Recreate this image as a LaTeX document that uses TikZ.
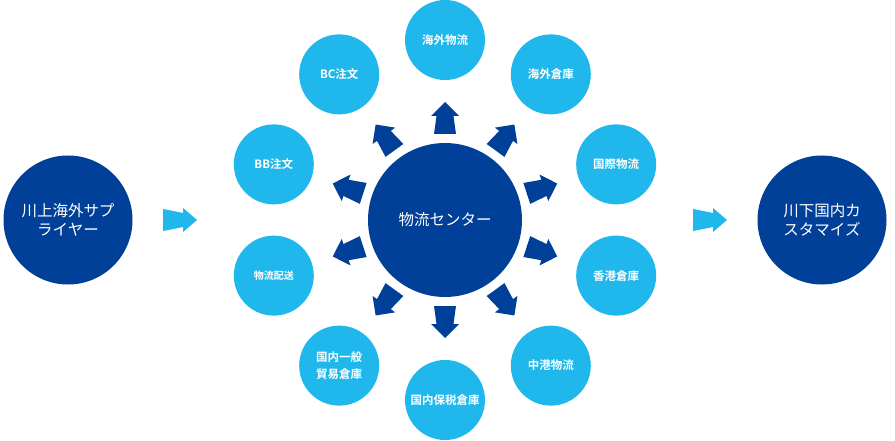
\documentclass[tikz,border=0pt]{standalone}
\usepackage{fontspec}
\newfontfamily\cjk{Noto Sans CJK JP}[BoldFont={Noto Sans CJK JP Bold}]
\definecolor{darkblue}{RGB}{0,64,152}
\definecolor{lightblue}{RGB}{32,184,236}
\tikzset{
  bigcirc/.style={circle, fill=darkblue, text=white, inner sep=0pt, minimum size=129pt,
    align=center, font=\cjk\fontsize{15.5}{19.5}\selectfont},
  hubcirc/.style={circle, fill=darkblue, text=white, inner sep=0pt, minimum size=154pt,
    font=\cjk\fontsize{15.5}{19.5}\selectfont},
  sat/.style={circle, fill=lightblue, text=white, inner sep=0pt, minimum size=80pt,
    align=center, font=\cjk\bfseries\fontsize{11.5}{17}\selectfont},
  radarrow/.style={fill=darkblue},
  flowarrow/.style={fill=lightblue},
}
\begin{document}
\begin{tikzpicture}[x=1pt,y=1pt]
\useasboundingbox (0,0) rectangle (895,440);
% main circles
\node[bigcirc] (up) at (68,220) {川上海外サプ\\ライヤー};
\node[hubcirc] (c) at (445,220) {物流センター};
\node[bigcirc] (down) at (822,220) {川下国内カ\\スタマイズ};
% satellites
\begin{scope}[shift={(445,220)}]
\node[sat] (s1) at (90:180) {海外物流};
\node[sat] (s2) at (54:180) {海外倉庫};
\node[sat] (s3) at (18:180) {国際物流};
\node[sat] (s4) at (-18:180) {香港倉庫};
\node[sat] (s5) at (-54:180) {中港物流};
\node[sat] (s6) at (-90:180) {国内保税倉庫};
\node[sat] (s7) at (-126:180) {国内一般\\貿易倉庫};
\node[sat, font=\cjk\bfseries\fontsize{10}{12}\selectfont] (s8) at (-162:180) {物流配送};
\node[sat] (s9) at (162:180) {BB注文};
\node[sat] (s10) at (126:180) {BC注文};
% radial arrows
\foreach \a in {90,54,18,-18,-54,-90,-126,-162,162,126}
  \fill[radarrow, rotate=\a] (86,-11) -- (104,-8.5) -- (104,-14) -- (118,0)
     -- (104,14) -- (104,8.5) -- (86,11) -- cycle;
\end{scope}
% flow arrows
\coordinate (fa1) at (163,220);
\coordinate (fa2) at (693,220);
\foreach \p in {fa1,fa2}
  \fill[flowarrow, shift={(\p)}] (0,-11) -- (20,-7) -- (20,-12) -- (34,0)
     -- (20,12) -- (20,7) -- (0,11) -- cycle;
\end{tikzpicture}
\end{document}
